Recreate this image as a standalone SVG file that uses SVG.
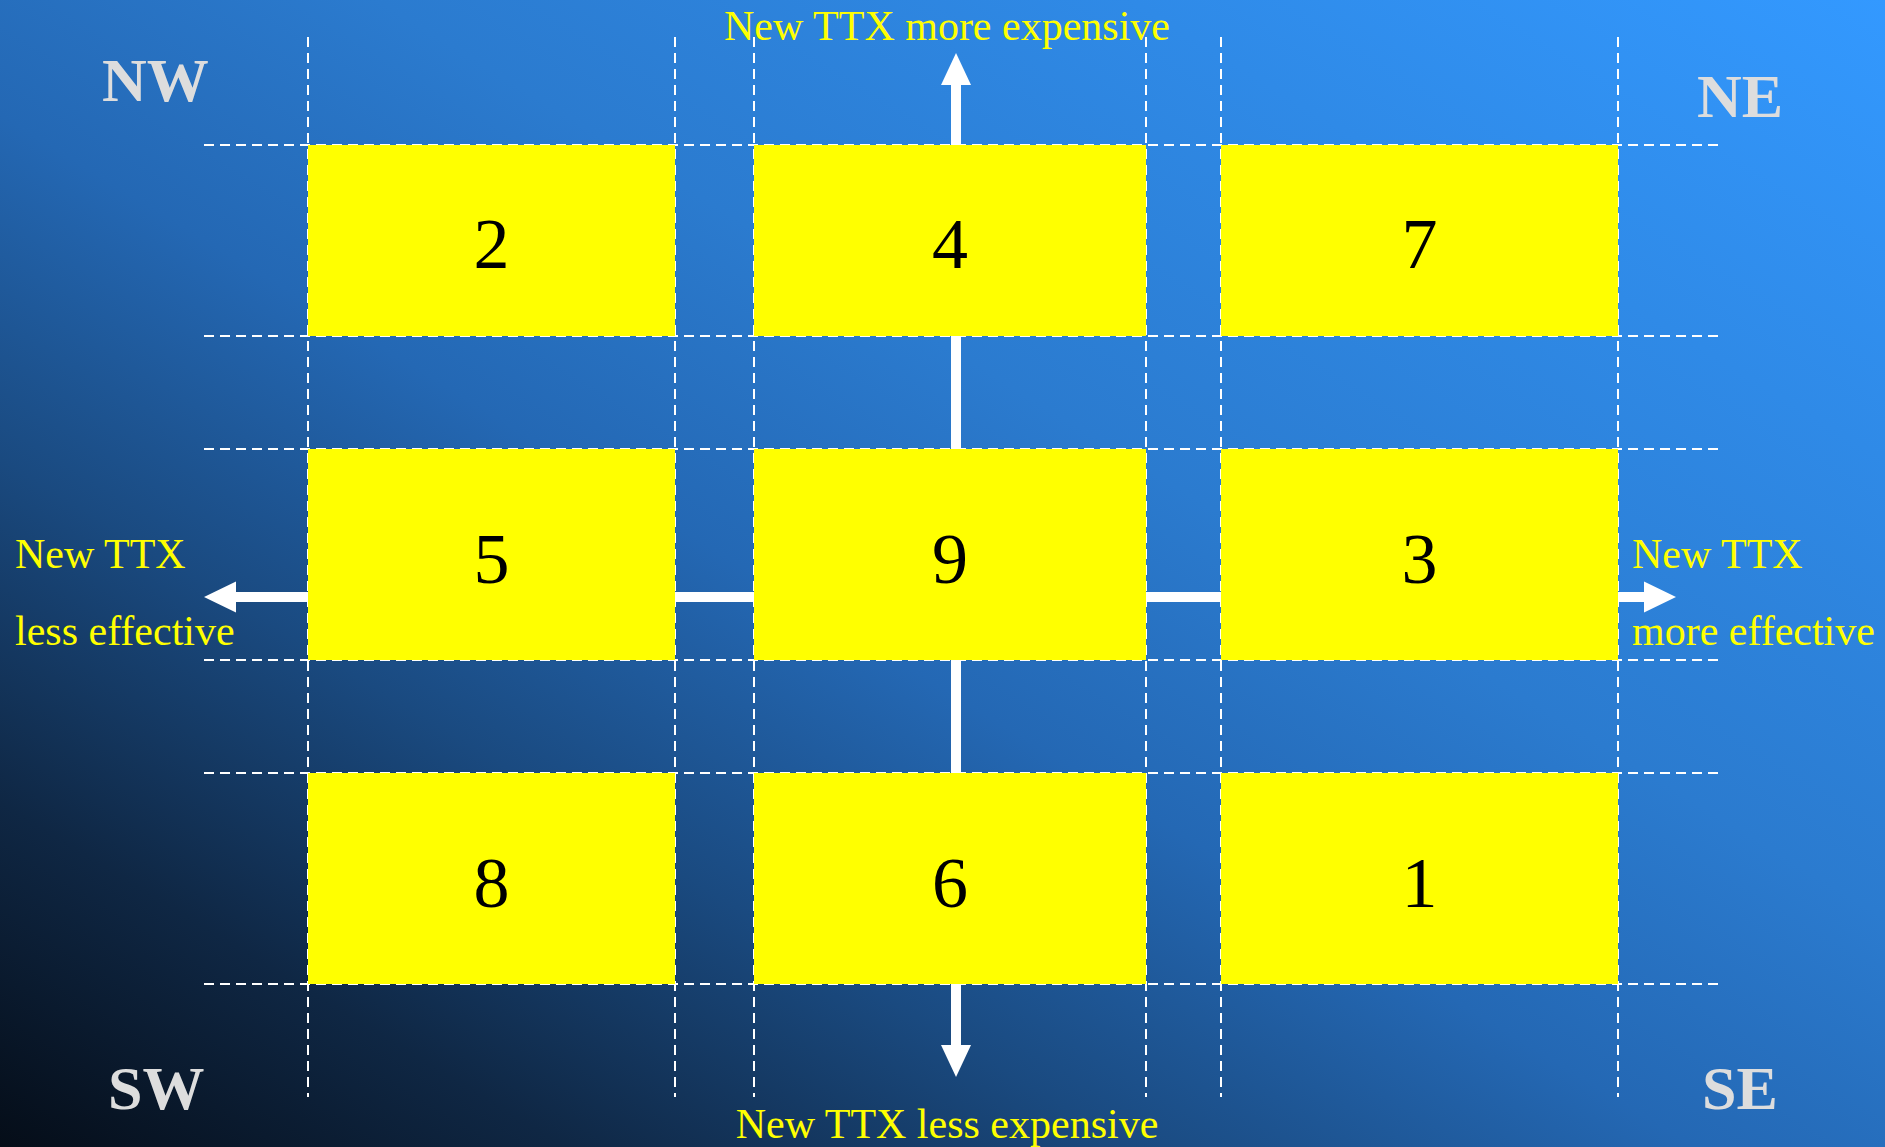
<svg xmlns="http://www.w3.org/2000/svg" width="1885" height="1147" viewBox="0 0 1885 1147">
<defs>
<linearGradient id="bg" x1="0" y1="1" x2="1" y2="0">
<stop offset="0" stop-color="#050d18"/>
<stop offset="0.15" stop-color="#0f2744"/>
<stop offset="0.3" stop-color="#1a4a80"/>
<stop offset="0.45" stop-color="#2468b4"/>
<stop offset="0.6" stop-color="#2b7bcf"/>
<stop offset="1" stop-color="#3399ff"/>
</linearGradient>
<style>
.grid{stroke:#ffffff;stroke-width:2;stroke-dasharray:10 6;fill:none}
.box{fill:#ffff00}
.num{font-family:"Liberation Serif","Times New Roman",serif;font-size:72px;fill:#000000;text-anchor:middle}
.lbl{font-family:"Liberation Serif","Times New Roman",serif;font-size:42px;fill:#ffff00}
.dir{font-family:"Liberation Serif","Times New Roman",serif;font-size:62px;font-weight:bold;fill:#dddddd}
.shaft{stroke:#ffffff;stroke-width:10;fill:none}
.head{fill:#ffffff}
</style>
</defs>
<rect x="0" y="0" width="1885" height="1147" fill="url(#bg)"/>
<g id="grid">
<line class="grid" x1="204" y1="145" x2="1722" y2="145"/>
<line class="grid" x1="204" y1="336" x2="1722" y2="336"/>
<line class="grid" x1="204" y1="449" x2="1722" y2="449"/>
<line class="grid" x1="204" y1="660" x2="1722" y2="660"/>
<line class="grid" x1="204" y1="773" x2="1722" y2="773"/>
<line class="grid" x1="204" y1="984" x2="1722" y2="984"/>
<line class="grid" x1="308" y1="37" x2="308" y2="1097"/>
<line class="grid" x1="675" y1="37" x2="675" y2="1097"/>
<line class="grid" x1="754" y1="37" x2="754" y2="1097"/>
<line class="grid" x1="1146" y1="37" x2="1146" y2="1097"/>
<line class="grid" x1="1221" y1="37" x2="1221" y2="1097"/>
<line class="grid" x1="1618" y1="37" x2="1618" y2="1097"/>
</g>
<g id="connectors">
<line class="shaft" x1="956" y1="84" x2="956" y2="1047"/>
<polygon class="head" points="956,53 971,85 941,85"/>
<polygon class="head" points="956,1077 971,1045 941,1045"/>
<line class="shaft" x1="234" y1="597" x2="1646" y2="597"/>
<polygon class="head" points="204,597 236,581.5 236,612.5"/>
<polygon class="head" points="1676,597 1644,581.5 1644,612.5"/>
</g>
<g id="n2"><rect class="box" x="308" y="145" width="367" height="191"/><text class="num" x="491.5" y="268">2</text></g>
<g id="n4"><rect class="box" x="754" y="145" width="392" height="191"/><text class="num" x="950" y="268">4</text></g>
<g id="n7"><rect class="box" x="1221" y="145" width="397" height="191"/><text class="num" x="1419.5" y="268">7</text></g>
<g id="n5"><rect class="box" x="308" y="449" width="367" height="211"/><text class="num" x="491.5" y="583">5</text></g>
<g id="n9"><rect class="box" x="754" y="449" width="392" height="211"/><text class="num" x="950" y="583">9</text></g>
<g id="n3"><rect class="box" x="1221" y="449" width="397" height="211"/><text class="num" x="1419.5" y="583">3</text></g>
<g id="n8"><rect class="box" x="308" y="773" width="367" height="211"/><text class="num" x="491.5" y="907">8</text></g>
<g id="n6"><rect class="box" x="754" y="773" width="392" height="211"/><text class="num" x="950" y="907">6</text></g>
<g id="n1"><rect class="box" x="1221" y="773" width="397" height="211"/><text class="num" x="1419.5" y="907">1</text></g>
<g id="labels">
<text class="lbl" x="947" y="40" text-anchor="middle">New TTX more expensive</text>
<text class="lbl" x="947" y="1138" text-anchor="middle">New TTX less expensive</text>
<text class="lbl" x="15" y="568">New TTX</text>
<text class="lbl" x="15" y="645">less effective</text>
<text class="lbl" x="1632" y="568">New TTX</text>
<text class="lbl" x="1632" y="645">more effective</text>
<text class="dir" x="102" y="101">NW</text>
<text class="dir" x="1697" y="117">NE</text>
<text class="dir" x="108" y="1109">SW</text>
<text class="dir" x="1702" y="1109">SE</text>
</g>
</svg>
